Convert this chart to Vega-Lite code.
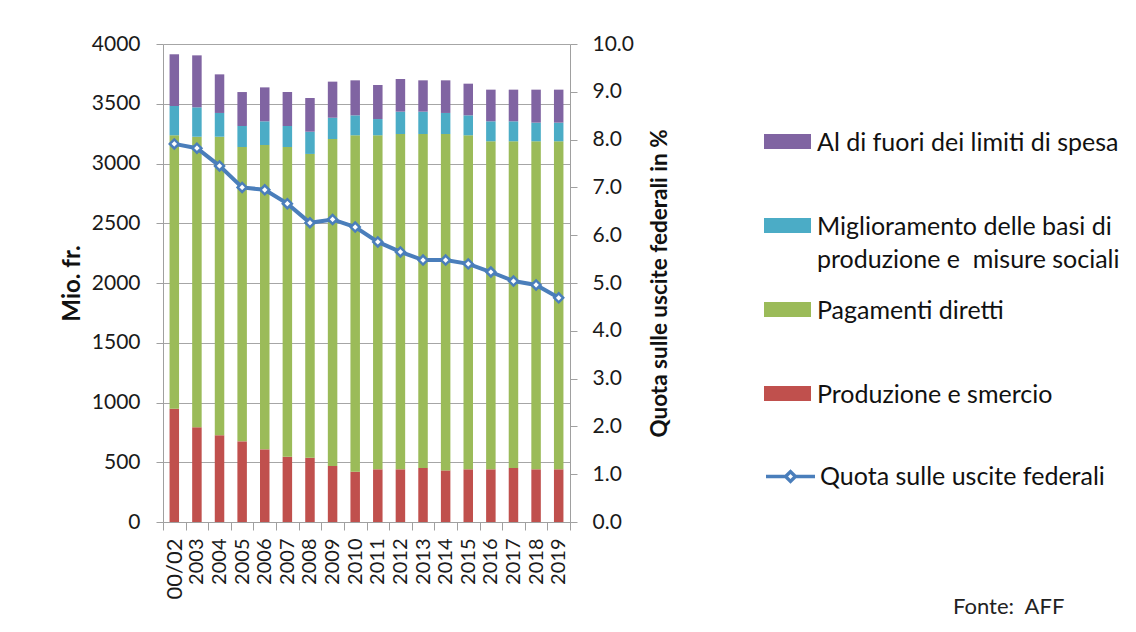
{
  "$schema": "https://vega.github.io/schema/vega-lite/v6.json",
  "width": 407,
  "height": 478,
  "autosize": {"type": "none"},
  "padding": {"left": 163, "top": 44, "right": 566, "bottom": 110},
  "background": "white",
  "config": {
    "font": "Lato",
    "view": {"stroke": null},
    "axis": {"domainColor": "#a0a0a0", "tickColor": "#a0a0a0", "gridColor": "#a6a6a6", "labelColor": "#1a1a1a", "titleColor": "#111111", "labelFont": "Lato", "titleFont": "Lato"},
    "legend": {"labelFont": "Lato", "labelColor": "#111111"}
  },
  "title": {"text": "Fonte:\u00a0 AFF", "orient": "bottom", "anchor": "start", "frame": "group", "dx": 790, "offset": -2, "fontSize": 22, "fontWeight": "normal", "font": "Lato", "color": "#222222"},
  "data": {"values": [
    {"year": "00/02", "Produzione e smercio": 947, "Pagamenti diretti": 2289, "Miglioramento delle basi di produzione e  misure sociali": 245, "Al di fuori dei limiti di spesa": 433, "quota": 7.91},
    {"year": "2003", "Produzione e smercio": 792, "Pagamenti diretti": 2432, "Miglioramento delle basi di produzione e  misure sociali": 246, "Al di fuori dei limiti di spesa": 435, "quota": 7.82},
    {"year": "2004", "Produzione e smercio": 725, "Pagamenti diretti": 2499, "Miglioramento delle basi di produzione e  misure sociali": 199, "Al di fuori dei limiti di spesa": 323, "quota": 7.45},
    {"year": "2005", "Produzione e smercio": 675, "Pagamenti diretti": 2463, "Miglioramento delle basi di produzione e  misure sociali": 176, "Al di fuori dei limiti di spesa": 284, "quota": 7.0},
    {"year": "2006", "Produzione e smercio": 608, "Pagamenti diretti": 2547, "Miglioramento delle basi di produzione e  misure sociali": 198, "Al di fuori dei limiti di spesa": 284, "quota": 6.95},
    {"year": "2007", "Produzione e smercio": 547, "Pagamenti diretti": 2591, "Miglioramento delle basi di produzione e  misure sociali": 176, "Al di fuori dei limiti di spesa": 284, "quota": 6.66},
    {"year": "2008", "Produzione e smercio": 538, "Pagamenti diretti": 2542, "Miglioramento delle basi di produzione e  misure sociali": 186, "Al di fuori dei limiti di spesa": 282, "quota": 6.26},
    {"year": "2009", "Produzione e smercio": 469, "Pagamenti diretti": 2736, "Miglioramento delle basi di produzione e  misure sociali": 178, "Al di fuori dei limiti di spesa": 302, "quota": 6.33},
    {"year": "2010", "Produzione e smercio": 421, "Pagamenti diretti": 2815, "Miglioramento delle basi di produzione e  misure sociali": 167, "Al di fuori dei limiti di spesa": 293, "quota": 6.17},
    {"year": "2011", "Produzione e smercio": 441, "Pagamenti diretti": 2795, "Miglioramento delle basi di produzione e  misure sociali": 136, "Al di fuori dei limiti di spesa": 285, "quota": 5.86},
    {"year": "2012", "Produzione e smercio": 441, "Pagamenti diretti": 2806, "Miglioramento delle basi di produzione e  misure sociali": 187, "Al di fuori dei limiti di spesa": 273, "quota": 5.65},
    {"year": "2013", "Produzione e smercio": 452, "Pagamenti diretti": 2795, "Miglioramento delle basi di produzione e  misure sociali": 187, "Al di fuori dei limiti di spesa": 262, "quota": 5.48},
    {"year": "2014", "Produzione e smercio": 432, "Pagamenti diretti": 2815, "Miglioramento delle basi di produzione e  misure sociali": 176, "Al di fuori dei limiti di spesa": 273, "quota": 5.48},
    {"year": "2015", "Produzione e smercio": 441, "Pagamenti diretti": 2795, "Miglioramento delle basi di produzione e  misure sociali": 167, "Al di fuori dei limiti di spesa": 265, "quota": 5.4},
    {"year": "2016", "Produzione e smercio": 441, "Pagamenti diretti": 2745, "Miglioramento delle basi di produzione e  misure sociali": 167, "Al di fuori dei limiti di spesa": 265, "quota": 5.23},
    {"year": "2017", "Produzione e smercio": 452, "Pagamenti diretti": 2734, "Miglioramento delle basi di produzione e  misure sociali": 167, "Al di fuori dei limiti di spesa": 265, "quota": 5.04},
    {"year": "2018", "Produzione e smercio": 441, "Pagamenti diretti": 2745, "Miglioramento delle basi di produzione e  misure sociali": 156, "Al di fuori dei limiti di spesa": 276, "quota": 4.96},
    {"year": "2019", "Produzione e smercio": 441, "Pagamenti diretti": 2745, "Miglioramento delle basi di produzione e  misure sociali": 156, "Al di fuori dei limiti di spesa": 276, "quota": 4.69}
  ]},
  "layer": [
    {
      "transform": [{"fold": ["Produzione e smercio", "Pagamenti diretti", "Miglioramento delle basi di produzione e  misure sociali", "Al di fuori dei limiti di spesa"], "as": ["cat", "val"]}],
      "mark": {"type": "bar", "width": {"band": 0.42}},
      "encoding": {
        "x": {"field": "year", "type": "nominal", "sort": null, "scale": {"paddingInner": 0, "paddingOuter": 0},
          "axis": {"title": null, "labelAngle": -90, "labelFontSize": {"condition": {"test": "datum.value == '00/02'", "value": 22}, "value": 20}, "tickBand": "extent", "tickSize": 8, "labelPadding": 8, "grid": false}},
        "y": {"field": "val", "type": "quantitative", "stack": "zero", "scale": {"domain": [0, 4000], "nice": false},
          "axis": {"title": "Mio. fr.", "format": "d", "values": [0, 500, 1000, 1500, 2000, 2500, 3000, 3500, 4000], "grid": true, "tickSize": 7, "labelPadding": 16, "labelFontSize": 21, "titleFontSize": 24, "titleFontWeight": "bold", "titleX": -91, "titleY": 239, "titleAngle": 270, "titleBaseline": "middle", "titleAlign": "center"}},
        "fill": {"field": "cat", "type": "nominal",
          "scale": {"domain": ["Al di fuori dei limiti di spesa", "Miglioramento delle basi di produzione e  misure sociali", "Pagamenti diretti", "Produzione e smercio"], "range": ["#8064a2", "#4bacc6", "#9bbb59", "#c0504d"]},
          "legend": {"title": null, "orient": "none", "legendX": 601, "legendY": 74, "symbolType": "M-1,-0.32H1V0.32H-1Z M0,-1.1L0,-1.1 M0,2.2L0,2.2", "symbolSize": 2209, "symbolStrokeWidth": 0, "symbolOpacity": 1, "labelFontSize": 25, "labelOffset": 6, "labelLimit": 500, "rowPadding": 5, "labelBaseline": "alphabetic",
            "labelExpr": "datum.label == 'Miglioramento delle basi di produzione e  misure sociali' ? ['Miglioramento delle basi di', 'produzione e\u00a0 misure sociali'] : datum.label",
            "encoding": {"labels": {"dy": {"value": 9}, "lineHeight": {"value": 33}}}}}
      }
    },
    {
      "mark": {"type": "line", "strokeWidth": 4},
      "encoding": {
        "x": {"field": "year", "type": "nominal", "sort": null},
        "y": {"field": "quota", "type": "quantitative", "scale": {"domain": [0, 10], "nice": false},
          "axis": {"orient": "right", "title": "Quota sulle uscite federali in %", "values": [0, 1, 2, 3, 4, 5, 6, 7, 8, 9, 10], "format": ".1f", "grid": false, "tickSize": 7, "labelPadding": 15, "labelFontSize": 21, "titleFontSize": 22.5, "titleFontWeight": "bold", "titleX": 89, "titleY": 239, "titleAngle": 270, "titleBaseline": "middle", "titleAlign": "center"}},
        "stroke": {"datum": "Quota sulle uscite federali", "type": "nominal", "scale": {"range": ["#4a7ebb"]},
          "legend": {"title": null, "orient": "none", "legendX": 601, "legendY": 406, "symbolType": "M-1,0H-0.2M0.2,0H1M-0.2,0L0,-0.2L0.2,0L0,0.2Z", "symbolSize": 2401, "symbolStrokeWidth": 3.5, "symbolFillColor": "white", "labelFontSize": 25, "labelOffset": 3, "labelLimit": 500}}
      }
    },
    {
      "mark": {"type": "point", "shape": "diamond", "filled": true, "fill": "white", "stroke": "#4a7ebb", "strokeWidth": 2.5, "size": 80, "opacity": 1},
      "encoding": {
        "x": {"field": "year", "type": "nominal", "sort": null},
        "y": {"field": "quota", "type": "quantitative", "scale": {"domain": [0, 10], "nice": false}, "axis": null}
      }
    }
  ],
  "resolve": {"scale": {"y": "independent"}}
}
